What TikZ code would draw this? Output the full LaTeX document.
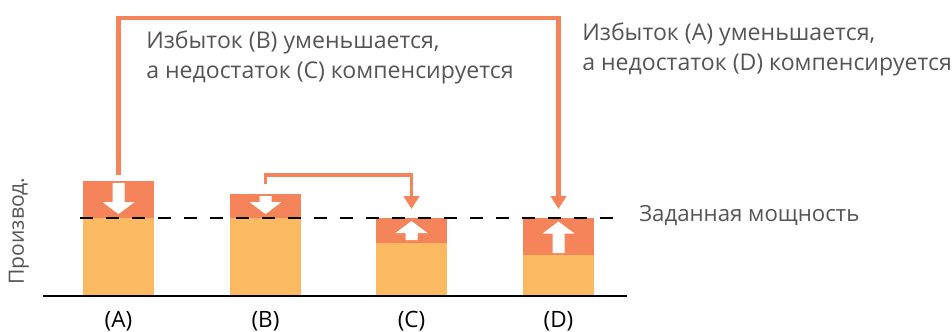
\documentclass[tikz,border=0pt]{standalone}
\usepackage{fontspec}
\setmainfont{Open Sans}
\usetikzlibrary{arrows.meta}
\definecolor{barlow}{RGB}{251,185,98}
\definecolor{barhigh}{RGB}{245,132,91}
\definecolor{txtgray}{RGB}{85,85,85}
\newcommand{\arrdown}[3]{\fill[white] (#1-6,#2) -- (#1+6,#2) -- (#1+6,#3-12) -- (#1+16,#3-12)
  -- (#1,#3) -- (#1-16,#3-12) -- (#1-6,#3-12) -- cycle;}
\newcommand{\arrup}[3]{\fill[white] (#1-6,#3) -- (#1+6,#3) -- (#1+6,#2+12) -- (#1+16,#2+12)
  -- (#1,#2) -- (#1-16,#2+12) -- (#1-6,#2+12) -- cycle;}
\tikzset{
  lowbar/.style={fill=barlow, minimum width=1.775cm, inner sep=0pt, outer sep=0pt, anchor=south},
  highbar/.style={fill=barhigh, minimum width=1.775cm, inner sep=0pt, outer sep=0pt, anchor=south},
  link/.style={draw=barhigh, line width=3.2pt, -{Triangle[width=0.38cm,length=0.32cm]}},
  lbl/.style={font=\fontsize{16.4}{21.3}\selectfont, text=txtgray, align=left, inner sep=0pt},
  barname/.style={font=\fontsize{16}{18}\selectfont, inner sep=0pt}
}
\begin{document}
\begin{tikzpicture}[x=0.025cm, y=-0.025cm]
      \useasboundingbox (0,0) rectangle (952,331);
      \node[lowbar, minimum height=1.95cm] (lowA) at (118.5,296) {};
      \node[highbar, minimum height=0.925cm] (topA) at (lowA.north) {};
      \node[lowbar, minimum height=1.95cm] (lowB) at (265.5,296) {};
      \node[highbar, minimum height=0.6cm] (topB) at (lowB.north) {};
      \node[lowbar, minimum height=1.325cm] (lowC) at (411.5,296) {};
      \node[highbar, minimum height=0.625cm] (topC) at (lowC.north) {};
      \node[lowbar, minimum height=1.025cm] (lowD) at (558.5,296) {};
      \node[highbar, minimum height=0.925cm] (topD) at (lowD.north) {};
      \arrdown{118.5}{183}{214}
      \arrdown{265.5}{196}{214}
      \arrup{411.5}{221}{240}
      \arrup{558.5}{221.5}{253}
      \coordinate (setL) at (80,218);
      \coordinate (setR) at (613,218);
      \coordinate (axisL) at (43,296);
      \coordinate (axisR) at (627,296);
      \draw[line width=1.3pt, dash pattern=on 0.325cm off 0.325cm] (setL) -- (setR);
      \draw[line width=1.3pt] (axisL) -- (axisR);
      \coordinate (bendAD) at (300,18);
      \coordinate (bendBC) at (300,175);
      \draw[link] ([yshift=0.15cm]topA.north) |- (bendAD) -| ([yshift=0.225cm]topD.north);
      \draw[link, line width=2.8pt] ([yshift=0.25cm]topB.north) |- (bendBC) -| ([yshift=0.225cm]topC.north);
      \node[lbl, anchor=west] (noteBC) at (146,57.5) {Избыток (B) уменьшается,\\а недостаток (C) компенсируется};
      \node[lbl, anchor=west] (noteAD) at (582,49) {Избыток (A) уменьшается,\\а недостаток (D) компенсируется};
      \node[lbl, anchor=west, font=\fontsize{15.8}{21.3}\selectfont] (setpoint) at (639,216) {Заданная мощность};
      \node[lbl, rotate=90, font=\fontsize{15}{18}\selectfont] (yaxis) at (19,231) {Производ.};
      \node[barname] (nameA) at (118.5,321) {(A)};
      \node[barname] (nameB) at (265.5,321) {(B)};
      \node[barname] (nameC) at (411.5,321) {(C)};
      \node[barname] (nameD) at (558.5,321) {(D)};
    \end{tikzpicture}
\end{document}
